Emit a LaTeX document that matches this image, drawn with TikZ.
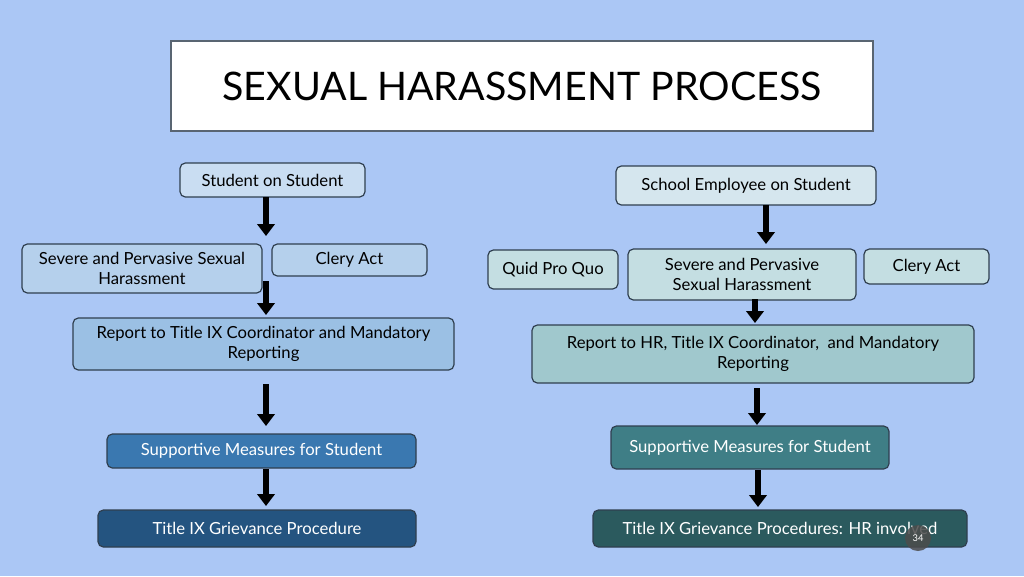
\documentclass[tikz,border=0pt]{standalone}
\usepackage{fontspec}
\setmainfont{Lato}
\usetikzlibrary{arrows.meta}
\definecolor{bg}{HTML}{ABC7F5}
\definecolor{edge}{HTML}{2F3F4F}
\definecolor{lA}{HTML}{C9DDF2}
\definecolor{lB}{HTML}{B5D0EC}
\definecolor{lC}{HTML}{9BC0E4}
\definecolor{lD}{HTML}{3A78B0}
\definecolor{lE}{HTML}{245480}
\definecolor{rA}{HTML}{D5E6EE}
\definecolor{rB}{HTML}{C4DEE2}
\definecolor{rC}{HTML}{A0C8CD}
\definecolor{rD}{HTML}{3F7E86}
\definecolor{rE}{HTML}{2B5A5E}
\tikzset{
 bx/.style n args={5}{draw=edge, line width=0.9pt, rounded corners=4pt, fill=#5,
   minimum width=(#3-#1)*0.75pt, minimum height=(#4-#2)*0.75pt, inner sep=1pt,
   align=center, font=\fontsize{12.5}{15.5}\selectfont},
 wt/.style={text=white},
 arr/.style={line width=4pt, -{Triangle[width=13pt,length=9pt]}, black}
}
\begin{document}
\begin{tikzpicture}[x=0.75pt,y=-0.75pt]
\fill[bg] (0,0) rectangle (1024,576);
\useasboundingbox (0,0) rectangle (1024,576);
\node[draw=edge!80, line width=1.8pt, fill=white, minimum width=702*0.75pt, minimum height=90*0.75pt, font=\fontsize{29.5}{31}\selectfont] (title) at (522,86) {SEXUAL HARASSMENT PROCESS};
% left
\node[bx={180}{163}{365}{197}{lA}] (l1) at (272.5,180) {Student on Student};
\node[bx={22}{244}{262}{293}{lB}] (l2) at (142,268.5) {Severe and Pervasive Sexual\\Harassment};
\node[bx={272}{244}{427}{276}{lB}] (l2b) at (349.5,260) {Clery Act};
\node[bx={73}{318}{454}{370}{lC}] (l3) at (263.5,344) {Report to Title IX Coordinator and Mandatory\\Reporting};
\node[bx={107}{434}{416}{468}{lD},wt] (l4) at (261.5,451) {Supportive Measures for Student};
\node[bx={98}{510}{416}{547}{lE},wt] (l5) at (257,528.5) {Title IX Grievance Procedure};
% right
\node[bx={616}{166}{876}{205}{rA}] (r1) at (746,185.5) {School Employee on Student};
\node[bx={488}{250}{618}{289}{rB}] (r2a) at (553,269.5) {Quid Pro Quo};
\node[bx={628}{249}{856}{300}{rB}] (r2) at (742,274.5) {Severe and Pervasive\\Sexual Harassment};
\node[bx={864}{249}{989}{284}{rB}] (r2b) at (926.5,266.5) {Clery Act};
\node[bx={532}{325}{974}{383}{rC}] (r3) at (753,354) {Report to HR, Title IX Coordinator,\ \ and Mandatory\\Reporting};
\node[bx={611}{426}{889}{469}{rD},wt] (r4) at (750,447.5) {Supportive Measures for Student};
\node[bx={593}{510}{967}{547}{rE},wt] (r5) at (780,528.5) {Title IX Grievance Procedures: HR involved};
\node[circle, fill=black!70, fill opacity=0.85, text opacity=1, text=white, minimum size=26*0.75pt, inner sep=0pt, font=\fontsize{7}{8}\selectfont] (pg) at (918,538) {34};
% arrows
\coordinate (a1s) at (266,197); \coordinate (a1e) at (266,236);
\coordinate (a2s) at (266,281); \coordinate (a2e) at (266,315);
\coordinate (a3s) at (266,384); \coordinate (a3e) at (266,426);
\coordinate (a4s) at (266,469); \coordinate (a4e) at (266,506);
\draw[arr] (a1s) -- (a1e);
\draw[arr] (a2s) -- (a2e);
\draw[arr] (a3s) -- (a3e);
\draw[arr] (a4s) -- (a4e);
\coordinate (b1s) at (766,205); \coordinate (b1e) at (766,244);
\coordinate (b2s) at (755,299); \coordinate (b2e) at (755,323);
\coordinate (b3s) at (757,388); \coordinate (b3e) at (757,425);
\coordinate (b4s) at (758,470); \coordinate (b4e) at (758,507);
\draw[arr] (b1s) -- (b1e);
\draw[arr] (b2s) -- (b2e);
\draw[arr] (b3s) -- (b3e);
\draw[arr] (b4s) -- (b4e);
\end{tikzpicture}
\end{document}
